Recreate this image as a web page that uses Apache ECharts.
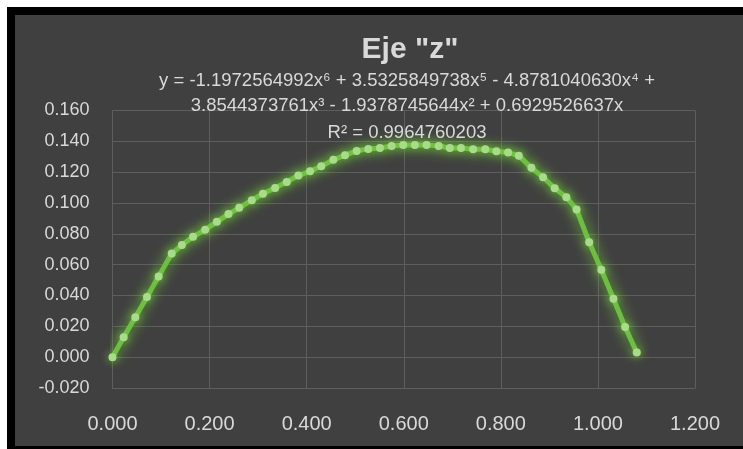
<html>
<head>
	<title>echart</title>
	<style>
		body { margin: 0; background: #fff; }
		#container { position: absolute; left: 0; top: 0; width: 743px; height: 449px; }
	</style>
</head>
<body>
<div id="container"></div>
</body>
<script type="text/javascript" src="https://cdn.jsdelivr.net/npm/echarts@6/dist/echarts.min.js"></script>
<script type="text/javascript">
    // datos (x, z)
    var xData = [0, 0.023, 0.047, 0.071, 0.095, 0.122, 0.143, 0.166, 0.191, 0.215,
        0.239, 0.261, 0.287, 0.310, 0.335, 0.359, 0.383, 0.407, 0.430, 0.455,
        0.479, 0.503, 0.527, 0.551, 0.575, 0.599, 0.623, 0.647, 0.672, 0.695,
        0.718, 0.743, 0.768, 0.791, 0.815, 0.837, 0.863, 0.887, 0.911, 0.935,
        0.956, 0.982, 1.007, 1.032, 1.056, 1.080];
    var zData = [0, 0.0130, 0.0259, 0.0390, 0.0523, 0.0672, 0.0727, 0.0781, 0.0827, 0.0878,
        0.0928, 0.0969, 0.1018, 0.1060, 0.1098, 0.1137, 0.1178, 0.1206, 0.1238, 0.1280,
        0.1310, 0.1338, 0.1351, 0.1357, 0.1370, 0.1377, 0.1377, 0.1377, 0.1370, 0.1357,
        0.1357, 0.1349, 0.1349, 0.1336, 0.1327, 0.1307, 0.1228, 0.1167, 0.1096, 0.1038,
        0.0958, 0.0746, 0.0567, 0.0379, 0.0196, 0.0030];
    var titleText = 'Eje "z"';
    var eqLines = [
        'y = -1.1972564992x\u2076 + 3.5325849738x\u2075 - 4.8781040630x\u2074 +',
        '3.8544373761x\u00B3 - 1.9378745644x\u00B2 + 0.6929526637x',
        'R\u00B2 = 0.9964760203'
    ];

    var points = [];
    for (var i = 0; i < xData.length; i++) {
        points.push([xData[i], zData[i]]);
    }

    var dom = document.getElementById("container");
    var myChart = echarts.init(dom);
    var txtColor = '#d9d9d9';
    var gridColor = '#5e5e5e';
    var font = '"Liberation Sans", Arial, sans-serif';

    var option = {
        backgroundColor: '#ffffff',
        animation: false,
        grid: { left: 112.5, right: 48, top: 110.5, bottom: 61 },
        graphic: [
            // marco negro y fondo gris
            { type: 'rect', z: -10, shape: { x: 7, y: 7, width: 736, height: 442 }, style: { fill: '#000000' } },
            { type: 'rect', z: -10, shape: { x: 15, y: 15, width: 728, height: 431 }, style: { fill: '#404040' } },
            { type: 'text', x: 410, y: 24, z: 10, style: { text: titleText, fill: txtColor, font: 'bold 30px ' + font, textAlign: 'center' } }
        ],
        xAxis: {
            type: 'value',
            min: 0, max: 1.2, interval: 0.2,
            axisLine: { show: true, onZero: false, lineStyle: { color: gridColor } },
            axisTick: { show: false },
            axisLabel: { color: txtColor, fontSize: 20, fontFamily: font, margin: 19,
                formatter: function (v) { return v.toFixed(3); } },
            splitLine: { show: true, lineStyle: { color: gridColor } }
        },
        yAxis: {
            type: 'value',
            min: -0.02, max: 0.16, interval: 0.02,
            axisLine: { show: true, onZero: false, lineStyle: { color: gridColor } },
            axisTick: { show: false },
            axisLabel: { color: txtColor, fontSize: 18, fontFamily: font, margin: 23,
                formatter: function (v) { return v.toFixed(3); } },
            splitLine: { show: true, lineStyle: { color: gridColor } }
        },
        series: [
            {
                type: 'line',
                data: points,
                clip: false,
                symbol: 'circle',
                symbolSize: 8,
                lineStyle: { color: '#6cbf3f', width: 5, shadowColor: 'rgba(120,215,60,0.95)', shadowBlur: 14 },
                itemStyle: { color: '#a8dc8a', shadowColor: 'rgba(120,215,60,0.9)', shadowBlur: 8 },
                z: 3
            }
        ]
    };

    // texto de la ecuacion de tendencia
    var eqY = [65, 90, 117];
    for (var k = 0; k < eqLines.length; k++) {
        option.graphic.push({
            type: 'text', x: 407, y: eqY[k], z: 10,
            style: { text: eqLines[k], fill: txtColor, font: '18.5px ' + font, textAlign: 'center' }
        });
    }

    myChart.setOption(option, true);
</script>
</html>
